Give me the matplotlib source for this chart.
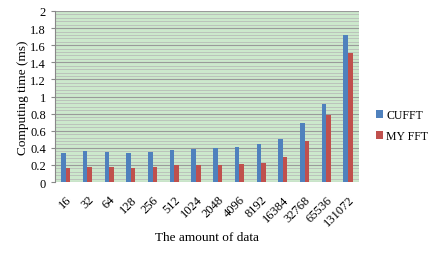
import numpy as np
import matplotlib.pyplot as plt
import matplotlib.ticker as ticker

plt.rcParams['font.family'] = ['Liberation Serif', 'DejaVu Serif']

sizes = ["16", "32", "64", "128", "256", "512", "1024", "2048", "4096",
         "8192", "16384", "32768", "65536", "131072"]
cufft = [0.34, 0.36, 0.35, 0.34, 0.35, 0.37, 0.39, 0.40, 0.41, 0.44, 0.50, 0.69, 0.91, 1.72]
my_fft = [0.17, 0.18, 0.18, 0.17, 0.18, 0.20, 0.20, 0.20, 0.21, 0.22, 0.29, 0.48, 0.79, 1.51]

fig = plt.figure(figsize=(4.36, 2.55), dpi=100)
ax = fig.add_axes([0.126, 0.282, 0.697, 0.671])

x = np.arange(len(sizes))
w = 0.21
ax.bar(x - w / 2, cufft, width=w, color="#4F81BD", label="CUFFT", zorder=3)
ax.bar(x + w / 2, my_fft, width=w, color="#C0504D", label="MY FFT", zorder=3)

ax.set_facecolor("#CCE8CC")
ax.set_xlim(-0.5, len(sizes) - 0.5)
ax.set_ylim(0, 2)
ax.yaxis.set_major_locator(ticker.MultipleLocator(0.2))
ax.yaxis.set_minor_locator(ticker.MultipleLocator(0.04))
ax.yaxis.set_major_formatter(ticker.FuncFormatter(lambda v, p: f"{v:g}"))
ax.grid(True, which="major", axis="y", color="#9A9A9A", linewidth=0.8, zorder=1)
ax.grid(True, which="minor", axis="y", color="#B4B4B4", linewidth=0.5, zorder=1)

ax.set_xticks(x)
ax.set_xticklabels(sizes, rotation=45, ha="right", rotation_mode="anchor", fontsize=9)
ax.tick_params(axis="x", length=0, pad=8)
ax.tick_params(axis="y", which="major", labelsize=9, length=3, color="#888888")
ax.tick_params(axis="y", which="minor", length=0)

for s in ["top", "right", "bottom"]:
    ax.spines[s].set_visible(False)
ax.spines["left"].set_color("#888888")

ax.set_ylabel("Computing time (ms)", fontsize=9.5, labelpad=1)
ax.set_xlabel("The amount of data", fontsize=9.5, labelpad=2)

ax.legend(loc="center left", bbox_to_anchor=(1.02, 0.33), frameon=False,
          fontsize=8.5, handlelength=0.6, handleheight=0.6, handletextpad=0.3,
          labelspacing=0.75)

fig.savefig("out.png", dpi=100)
